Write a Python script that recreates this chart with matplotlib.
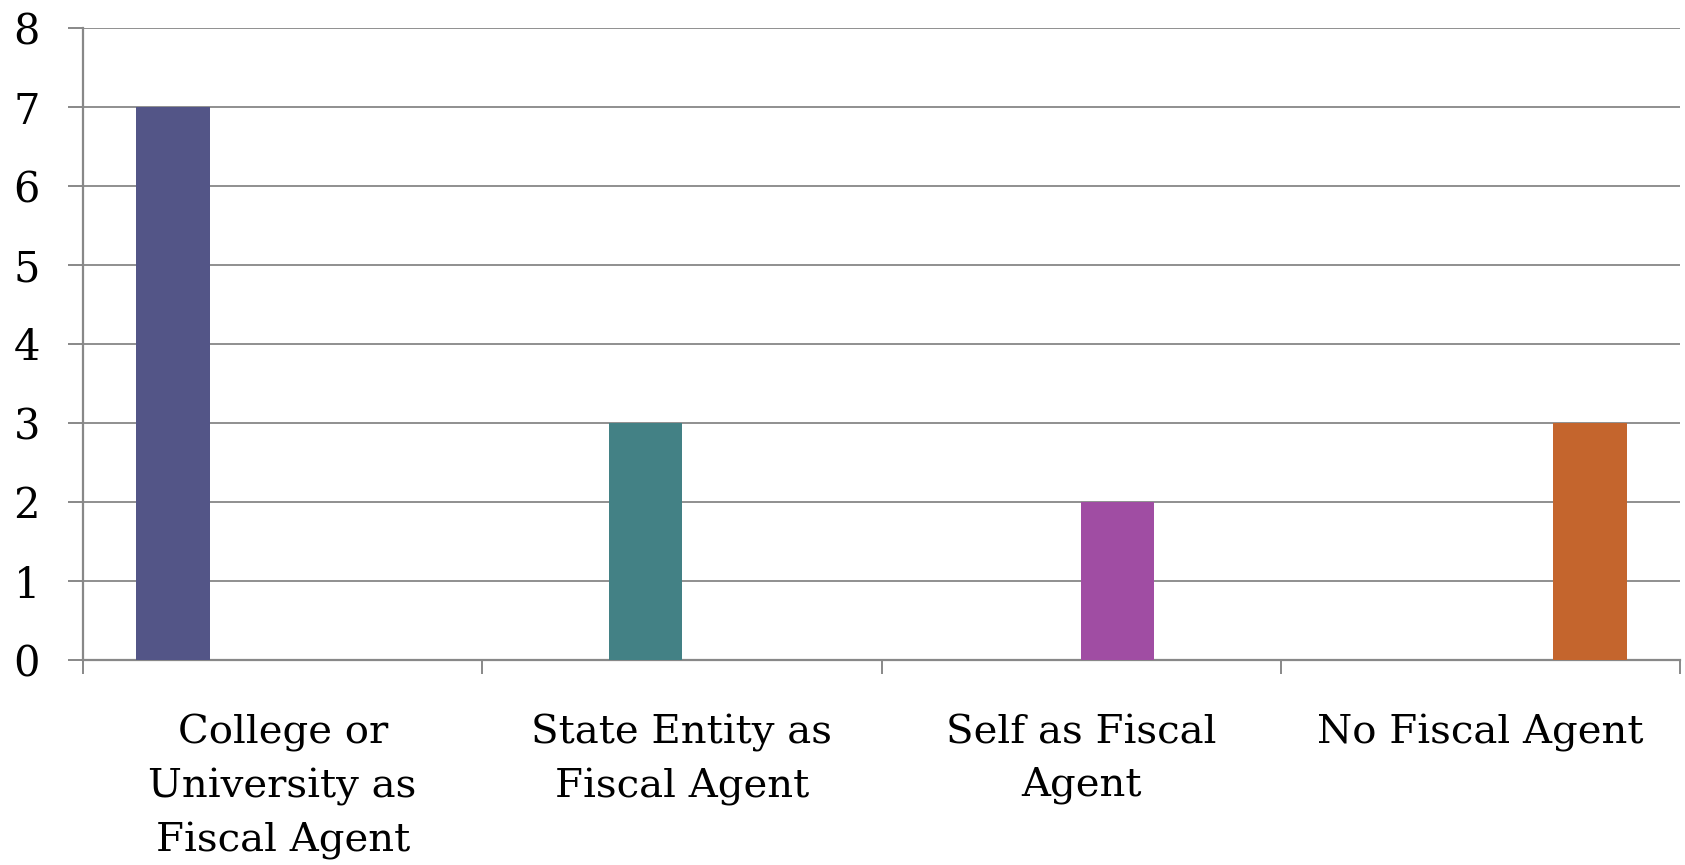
import matplotlib
matplotlib.use("Agg")
import matplotlib.pyplot as plt
import numpy as np

categories = ["College or\nUniversity as\nFiscal Agent", "State Entity as\nFiscal Agent",
              "Self as Fiscal\nAgent", "No Fiscal Agent"]
values = [7, 3, 2, 3]
colors = ["#535587", "#438185", "#A04DA3", "#C4652D"]
yticks = [0, 1, 2, 3, 4, 5, 6, 7, 8]

plt.rcParams['font.family'] = ['DejaVu Serif']

fig = plt.figure(figsize=(16.85, 8.65), dpi=100)
ax = fig.add_axes([83/1685, 1-660/865, (1680-83)/1685, (660-28)/865])

n = len(categories)
w = 0.183
x = np.arange(n)
for i, (v, c) in enumerate(zip(values, colors)):
    ax.bar(x[i] + (i - (n - 1) / 2) * w, v, width=w, color=c, zorder=3)

ax.set_xlim(-0.5, n - 0.5)
ax.set_ylim(0, 8)
ax.set_yticks(yticks)
ax.set_yticklabels([str(t) for t in yticks], fontsize=30)
ax.grid(axis='y', color='#8f8f8f', linewidth=1.4, zorder=0)

ax.set_xticks(np.arange(n + 1) - 0.5)
ax.set_xticklabels([])
ax.set_xticks(x, minor=True)
ax.set_xticklabels(categories, minor=True, fontsize=29, linespacing=1.54)
ax.tick_params(axis='x', which='minor', length=0, pad=39)
ax.tick_params(axis='x', which='major', length=10, width=1.4, color='#888888')
ax.tick_params(axis='y', length=11, width=1.4, color='#888888', pad=20)

for s in ['top', 'right']:
    ax.spines[s].set_visible(False)
for s in ['left', 'bottom']:
    ax.spines[s].set_color('#888888')
    ax.spines[s].set_linewidth(1.6)

fig.savefig("out.png", dpi=100)
